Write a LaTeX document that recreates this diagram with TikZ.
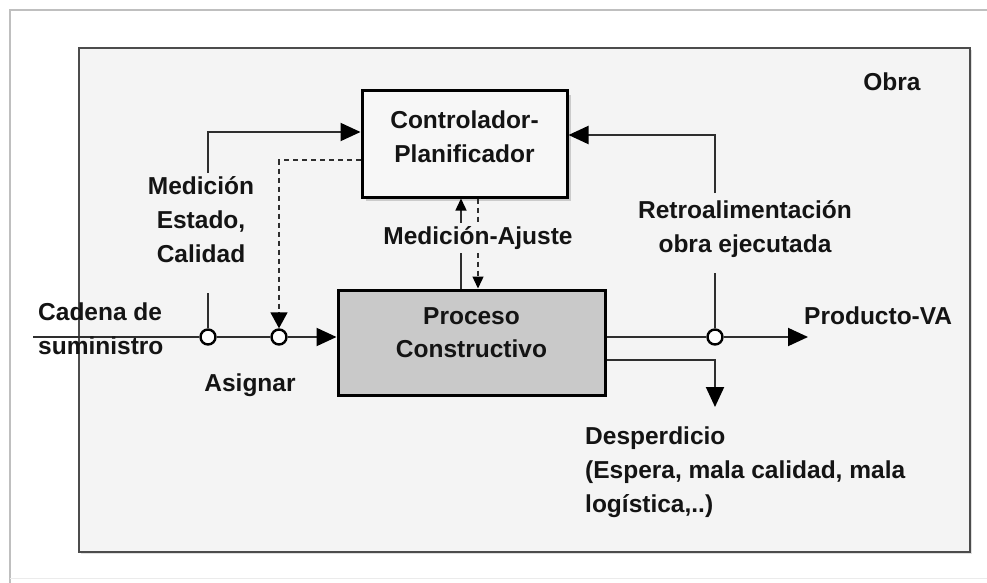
\documentclass[tikz,border=0pt]{standalone}
\usepackage{fontspec}
\setmainfont{Liberation Sans}
\usetikzlibrary{arrows.meta,shadows}
\definecolor{bgc}{HTML}{F4F4F4}
\definecolor{txt}{HTML}{141414}
\definecolor{ln}{HTML}{2E2E2E}
\definecolor{procfill}{HTML}{C9C9C9}
\begin{document}
\begin{tikzpicture}[x=1pt,y=-1pt,
  lbl/.style={font=\fontsize{24.5pt}{34pt}\selectfont\bfseries, text=txt, inner sep=0pt},
  boxstyle/.style={draw=black, line width=3pt, lbl, align=center},
  conn/.style={draw=ln, line width=2pt},
  bigtip/.style={-{Triangle[length=20pt,width=18pt,color=black]}},
  smalltip/.style={-{Triangle[length=12pt,width=11pt,color=black]}},
  junction/.style={circle, draw=black, fill=white, line width=2.4pt, minimum size=15pt, inner sep=0pt},
  dashline/.style={draw=ln, line width=1.6pt, dash pattern=on 5pt off 4pt}]
\useasboundingbox (0,0) rectangle (987,583);
\fill[white] (0,0) rectangle (987,583);
% outer light frame
\coordinate (o1) at (10,583);
\coordinate (o2) at (10,10);
\coordinate (o3) at (987,10);
\draw[draw=black!25, line width=1.5pt] (o1) -- (o2) -- (o3);
\draw[draw=black!8, line width=1pt] (10,578) -- (987,578);
% main frame
\draw[fill=bgc, draw=black!70, line width=2.5pt, drop shadow={shadow xshift=2pt, shadow yshift=-2pt, opacity=0.25}] (79,48) rectangle (970,552);
\node[lbl] (obra) at (892,82) {Obra};

% boxes
\node[boxstyle, fill=white!97!black, minimum width=205pt, minimum height=106pt,
      drop shadow={shadow xshift=4pt, shadow yshift=-4pt, opacity=0.35}] (ctrl) at (464.5,144) {Controlador-\\Planificador\\[-30pt]\strut};
\node[boxstyle, fill=procfill, minimum width=267pt, minimum height=105pt] (proc) at (471.5,342.5) {Proceso\\[-1pt]Constructivo\vphantom{p}\\[-24pt]\strut};

% junctions
\node[junction] (c1) at (208,337) {};
\node[junction] (c2) at (279,337) {};
\node[junction] (c3) at (715,337) {};

% supply chain input
\coordinate (sIn) at (33,337);
\draw[conn] (sIn) -- (c1);
\draw[conn] (c1) -- (c2);
\draw[conn, bigtip] (c2) -- (proc.west |- c2);
\node[lbl, align=left, anchor=west] (cadena) at (38,328.5) {Cadena de\\suministro};

% Medicion Estado, Calidad
\coordinate (m1) at (208,293);
\coordinate (m2) at (208,173);
\coordinate (m3) at (208,132);
\draw[conn] (c1) -- (m1);
\draw[conn, bigtip] (m2) -- (m3) -- (ctrl.west |- m3);
\node[lbl, align=center] (medicion) at (201,220) {Medición\\Estado,\\Calidad};

% dashed assignment
\coordinate (d1) at (279,160);
\draw[dashline] (ctrl.west |- d1) -- (d1) -- (279,318);
\draw[draw=ln, line width=1.6pt, -{Triangle[length=16pt,width=17pt,color=black]}] (279,312) -- (c2.north);
\node[lbl] (asignar) at (250,385) {Asignar};

% Medicion-Ajuste
\coordinate (ma1) at (461,290);
\coordinate (ma2) at (478,197);
\draw[draw=ln, line width=1.4pt, smalltip] (proc.north -| ma1) -- (ctrl.south -| ma1);
\draw[draw=ln, line width=1.4pt, dash pattern=on 5pt off 4pt, smalltip] (ctrl.south -| ma2) -- (proc.north -| ma2);
\node[lbl, fill=bgc, inner sep=3pt] (ajuste) at (478,238) {Medición-Ajuste};

% output
\coordinate (pOut) at (808,337);
\draw[conn] (proc.east |- c3) -- (c3);
\draw[conn, bigtip] (c3) -- (pOut);
\node[lbl, anchor=west] (producto) at (804,316) {Producto-VA};

% feedback
\coordinate (r1) at (715,273);
\coordinate (r2) at (715,193);
\coordinate (r3) at (715,135);
\draw[conn] (c3) -- (r1);
\draw[conn, bigtip] (r2) -- (r3) -- (ctrl.east |- r3);
\node[lbl, align=center] (retro) at (745,229) {Retroalimentación\\obra ejecutada};

% waste
\coordinate (w1) at (715,360);
\coordinate (w2) at (715,407);
\draw[conn, bigtip] (proc.east |- w1) -- (w1) -- (w2);
\node[lbl, align=left, anchor=west] (desp) at (585,472) {Desperdicio\\(Espera, mala calidad, mala\\logística,..)};
\end{tikzpicture}
\end{document}
